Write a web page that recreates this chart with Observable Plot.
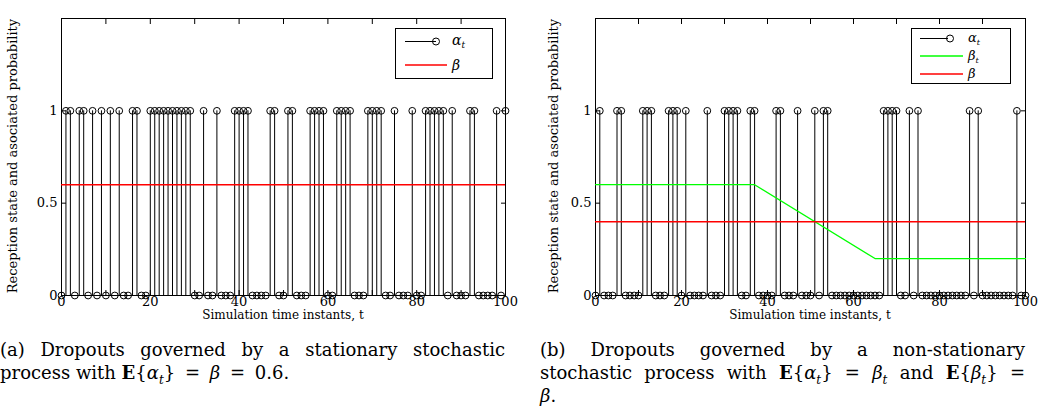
<!DOCTYPE html>
<html><head><meta charset="utf-8">
<script src="https://cdn.jsdelivr.net/npm/d3@7"></script>
<script src="https://cdn.jsdelivr.net/npm/@observablehq/plot@0.6"></script>
<style>
body{margin:0;background:#fff;}
#wrap{position:relative;width:1044px;height:417px;overflow:hidden;background:#fff;font-family:"DejaVu Serif",serif;color:#000;}
.panel{position:absolute;top:0;}
.ylab{position:absolute;white-space:nowrap;font-size:13px;transform:translate(-50%,-50%) rotate(-90deg);}
.xlab{position:absolute;white-space:nowrap;font-size:12px;line-height:12px;transform:translate(-50%,-50%);}
.cap{position:absolute;font-size:18px;line-height:23px;}
.cap .j{text-align:justify;text-align-last:justify;white-space:nowrap;}
.cap i{font-style:italic;}
.cap sub{font-size:12px;line-height:0;}
.cap .eq{margin:0 4px;}
.leg{position:absolute;}
</style>
</head><body>
<div id="wrap">
  <div id="pa" class="panel" style="left:0px"></div>
  <div id="pb" class="panel" style="left:520px"></div>
  <div class="ylab" style="left:12px;top:156px">Reception state and asociated probability</div>
  <div class="ylab" style="left:553px;top:156px">Reception state and asociated probability</div>
  <div class="xlab" style="left:283px;top:315px">Simulation time instants, t</div>
  <div class="xlab" style="left:810px;top:315px">Simulation time instants, t</div>
  <svg class="leg" style="left:395px;top:28px" width="98" height="51">
    <rect x="0.5" y="0.5" width="97" height="50" fill="#fff" stroke="#000"/>
    <line x1="10" y1="13.5" x2="41" y2="13.5" stroke="#000"/>
    <circle cx="41" cy="13.5" r="3.5" fill="none" stroke="#000"/>
    <text x="57" y="17" font-family="DejaVu Serif" font-size="14" font-style="italic">α<tspan font-size="9" dy="3">t</tspan></text>
    <line x1="10" y1="37" x2="52" y2="37" stroke="#ff0000" stroke-width="1.5"/>
    <text x="57" y="42" font-family="DejaVu Serif" font-size="14" font-style="italic">β</text>
  </svg>
  <svg class="leg" style="left:911px;top:28px" width="100" height="56">
    <rect x="0.5" y="0.5" width="99" height="55" fill="#fff" stroke="#000"/>
    <line x1="9" y1="10.5" x2="37" y2="10.5" stroke="#000"/>
    <circle cx="39" cy="10.5" r="3.5" fill="none" stroke="#000"/>
    <text x="57" y="14" font-family="DejaVu Serif" font-size="13" font-style="italic">α<tspan font-size="8" dy="3">t</tspan></text>
    <line x1="9" y1="28" x2="52" y2="28" stroke="#00ff00" stroke-width="1.5"/>
    <text x="57" y="32" font-family="DejaVu Serif" font-size="13" font-style="italic">β<tspan font-size="8" dy="3">t</tspan></text>
    <line x1="9" y1="46" x2="52" y2="46" stroke="#ff0000" stroke-width="1.5"/>
    <text x="57" y="50" font-family="DejaVu Serif" font-size="13" font-style="italic">β</text>
  </svg>
  <div class="cap" style="left:0px;top:338px;width:505px">
    <div class="j">(a) Dropouts governed by a stationary stochastic</div>
    <div>process with <b>E</b>{<i>α</i><sub><i>t</i></sub>} <span class="eq">=</span> <i>β</i> <span class="eq">=</span> 0.6.</div>
  </div>
  <div class="cap" style="left:540px;top:338px;width:485px">
    <div class="j">(b) Dropouts governed by a non-stationary</div>
    <div class="j">stochastic process with <b>E</b>{<i>α</i><sub><i>t</i></sub>} = <i>β</i><sub><i>t</i></sub> and <b>E</b>{<i>β</i><sub><i>t</i></sub>} =</div>
    <div><i>β</i>.</div>
  </div>
</div>
<script>
// time instants (categories)
const tIdx = d3.range(0, 101);
// panel (a): reception state alpha_t
const alphaA = [
  0,1,1,0,1,1,0,1,0,1,
  0,1,0,1,0,0,1,1,0,0,
  1,1,1,1,1,1,1,1,1,1,
  0,0,1,0,0,1,0,0,0,1,
  1,1,1,0,0,0,0,1,1,0,
  0,1,1,0,0,0,1,1,1,1,
  0,0,1,1,1,1,0,0,0,1,
  1,1,1,0,0,1,0,0,0,1,
  0,0,1,1,1,1,1,0,1,0,
  0,0,1,1,0,0,0,0,1,0,
  1
];
// panel (b): reception state alpha_t
const alphaB = [
  0,1,0,0,0,1,1,0,0,0,
  0,1,1,1,0,0,0,1,1,1,
  0,1,0,0,0,0,1,0,0,0,
  1,1,1,1,0,0,1,1,0,0,
  0,0,1,1,0,0,0,1,0,0,
  0,1,0,1,1,0,0,0,0,0,
  0,0,0,0,0,0,0,1,1,1,
  1,0,0,1,0,1,0,0,0,0,
  0,0,0,0,0,0,0,1,0,1,
  0,0,0,0,0,0,0,0,1,0,
  0
];
const betaA = 0.6;
const betaB = 0.4;
// beta_t breakpoints for panel (b)
const betaTTimes = [0, 37, 65, 100];
const betaTValues = [0.6, 0.6, 0.2, 0.2];
const xTicks = [0,10,20,30,40,50,60,70,80,90,100];
const xLabelTicks = [0,20,40,60,80,100];
const yTicks = [0, 0.5, 1];

function makePanel(alpha, betaConst, betaT, width, marginLeft, marginRight) {
  const data = tIdx.map((t, i) => ({t, a: alpha[i]}));
  const marks = [
    Plot.frame({stroke: "#000"}),
    Plot.axisX({ticks: xTicks, tickSize: -5, tickPadding: 6,
      tickFormat: d => xLabelTicks.includes(d) ? String(d) : "", label: null}),
    Plot.axisX({anchor: "top", ticks: xTicks, tickSize: -5, tickFormat: () => "", label: null}),
    Plot.axisY({ticks: yTicks, tickSize: -5, tickPadding: 9, tickFormat: d => String(d), label: null}),
    Plot.axisY({anchor: "right", ticks: yTicks, tickSize: -5, tickFormat: () => "", label: null}),
    Plot.ruleX(data, {x: "t", y1: 0, y2: "a", stroke: "#000", strokeWidth: 1}),
    Plot.dot(data, {x: "t", y: "a", r: 3.4, stroke: "#000", fill: "none", strokeWidth: 1})
  ];
  if (betaT) marks.push(Plot.line(betaT, {x: "t", y: "v", stroke: "#00ff00", strokeWidth: 1.3}));
  marks.push(Plot.ruleY([betaConst], {stroke: "#ff0000", strokeWidth: 1.5}));
  return Plot.plot({
    width, height: 320,
    marginLeft, marginRight, marginTop: 18, marginBottom: 25,
    x: {domain: [0, 100]},
    y: {domain: [0, 1.5]},
    style: {fontFamily: "DejaVu Serif", fontSize: "13px", color: "#000", background: "transparent", overflow: "visible"},
    marks
  });
}

const betaTData = betaTTimes.map((t, i) => ({t, v: betaTValues[i]}));
document.getElementById("pa").appendChild(makePanel(alphaA, betaA, null, 520, 61, 15));
document.getElementById("pb").appendChild(makePanel(alphaB, betaB, betaTData, 524, 75, 19));
</script>
</body></html>
